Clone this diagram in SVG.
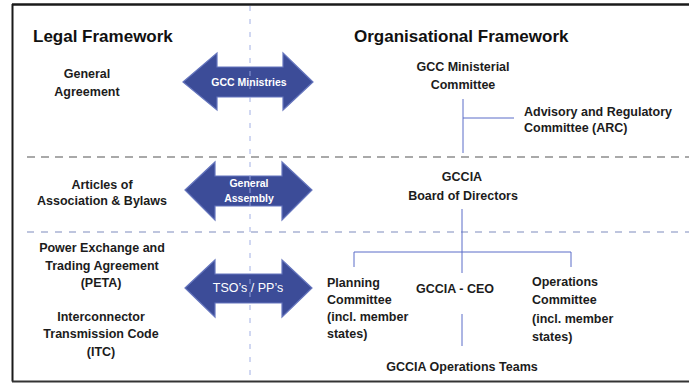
<svg xmlns="http://www.w3.org/2000/svg" width="689" height="383" viewBox="0 0 689 383">
  <defs>
    <style>
      .lbl { font-family: "Liberation Sans", Arial, sans-serif; font-size: 12.5px; font-weight: bold; fill: #1c1c1c; }
      .mid { text-anchor: middle; }
      .head { font-family: "Liberation Sans", Arial, sans-serif; font-size: 17px; font-weight: bold; fill: #111; }
      .arrow { fill: #3c4c98; stroke: #6575bd; stroke-width: 1.2; stroke-linejoin: miter; }
      .atext { font-family: "Liberation Sans", Arial, sans-serif; fill: #ffffff; text-anchor: middle; }
      .org { stroke: #5a6cc8; stroke-width: 1; fill: none; }
    </style>
  </defs>
  <rect width="689" height="383" fill="#ffffff"/>

  <!-- frame: left, top and bottom edges -->
  <g id="frame" fill="none">
    <line x1="689" y1="4.5" x2="12" y2="4.5" stroke="#1a1a1a" stroke-width="2.5"/>
    <line x1="12.5" y1="4" x2="12.5" y2="381.5" stroke="#1a1a1a" stroke-width="2"/>
    <line x1="12" y1="381.5" x2="689" y2="381.5" stroke="#333" stroke-width="2"/>
  </g>

  <!-- section separators -->
  <g id="separators" fill="none">
    <line x1="27" y1="157" x2="689" y2="157" stroke="#555" stroke-width="1.2" stroke-dasharray="8 6"/>
    <line x1="27" y1="232" x2="689" y2="232" stroke="#7f8bbd" stroke-width="1.2" stroke-dasharray="7 7"/>
  </g>

  <!-- headings -->
  <g id="headings">
    <text class="head" x="33" y="42">Legal Framework</text>
    <text class="head" x="354" y="42">Organisational Framework</text>
  </g>

  <!-- double-headed block arrows -->
  <g id="arrow-gcc-ministries">
    <path class="arrow" d="M183,82 L217,53 L217,67 L283,67 L283,53 L313,82 L283,110 L283,97 L217,97 L217,110 Z"/>
  </g>
  <g id="arrow-general-assembly">
    <path class="arrow" d="M185,190 L215,162 L215,176 L282,176 L282,162 L312,190 L282,220 L282,206 L215,206 L215,220 Z"/>
  </g>
  <g id="arrow-tso-pp">
    <path class="arrow" d="M185,288 L215,260 L215,274 L282,274 L282,260 L312,288 L282,317 L282,303 L215,303 L215,317 Z"/>
  </g>

  <!-- central divider -->
  <line id="divider" x1="250" y1="6" x2="250" y2="378" stroke="#9aa8e2" stroke-width="1" stroke-dasharray="5 8" opacity="0.9"/>

  <g id="arrow-labels">
    <text class="atext" x="249" y="86" font-size="10.5" font-weight="bold">GCC Ministries</text>
    <text class="atext" x="249" y="187" font-size="10.5" font-weight="bold">General</text>
    <text class="atext" x="249" y="202" font-size="10.5" font-weight="bold">Assembly</text>
    <text class="atext" x="248" y="292" font-size="12.5">TSO’s / PP’s</text>
  </g>

  <!-- organisational connectors -->
  <g id="connectors" class="org">
    <line x1="463" y1="99" x2="463" y2="153"/>
    <line x1="463" y1="118" x2="514" y2="118"/>
    <line x1="462" y1="209" x2="462" y2="273"/>
    <polyline points="354,267 354,252 571,252 571,267"/>
    <line x1="462" y1="314" x2="462" y2="346"/>
  </g>

  <!-- legal framework nodes -->
  <g id="general-agreement">
    <text class="lbl mid" x="87" y="78">General</text>
    <text class="lbl mid" x="87" y="96">Agreement</text>
  </g>
  <g id="articles-of-association">
    <text class="lbl mid" x="102" y="189">Articles of</text>
    <text class="lbl mid" x="102" y="205">Association &amp; Bylaws</text>
  </g>
  <g id="peta">
    <text class="lbl mid" x="102" y="252">Power Exchange and</text>
    <text class="lbl mid" x="102" y="270">Trading Agreement</text>
    <text class="lbl mid" x="101" y="287">(PETA)</text>
  </g>
  <g id="itc">
    <text class="lbl mid" x="101" y="321">Interconnector</text>
    <text class="lbl mid" x="101" y="338">Transmission Code</text>
    <text class="lbl mid" x="101" y="356">(ITC)</text>
  </g>

  <!-- organisational framework nodes -->
  <g id="ministerial-committee">
    <text class="lbl mid" x="463" y="71">GCC Ministerial</text>
    <text class="lbl mid" x="463" y="89">Committee</text>
  </g>
  <g id="arc">
    <text class="lbl" x="524" y="116">Advisory and Regulatory</text>
    <text class="lbl" x="524" y="132">Committee (ARC)</text>
  </g>
  <g id="board">
    <text class="lbl mid" x="462" y="181">GCCIA</text>
    <text class="lbl mid" x="463" y="200">Board of Directors</text>
  </g>
  <g id="planning-committee">
    <text class="lbl" x="327" y="287">Planning</text>
    <text class="lbl" x="327" y="304">Committee</text>
    <text class="lbl" x="327" y="321">(incl. member</text>
    <text class="lbl" x="327" y="338">states)</text>
  </g>
  <g id="ceo">
    <text class="lbl mid" x="455" y="293">GCCIA - CEO</text>
  </g>
  <g id="operations-committee">
    <text class="lbl" x="532" y="286">Operations</text>
    <text class="lbl" x="532" y="304">Committee</text>
    <text class="lbl" x="532" y="323">(incl. member</text>
    <text class="lbl" x="532" y="341">states)</text>
  </g>
  <g id="operations-teams">
    <text class="lbl mid" x="462" y="371">GCCIA Operations Teams</text>
  </g>
</svg>
